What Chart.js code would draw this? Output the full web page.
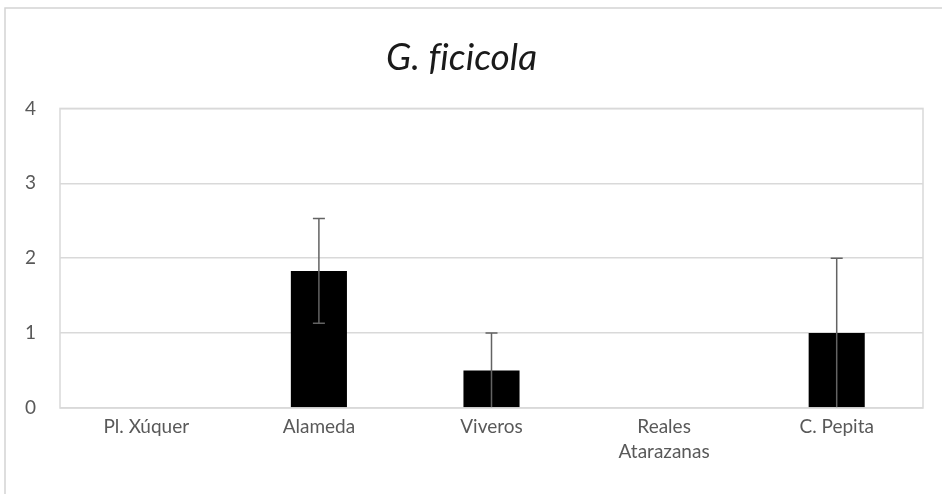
<!DOCTYPE html>
<html>
<head>
<meta charset="utf-8">
<title>G. ficicola</title>
<script src="https://cdn.jsdelivr.net/npm/chart.js"></script>
<style>
  html, body { margin:0; padding:0; background:#fff; }
  .wrap { width:942px; height:494px; position:relative; }
</style>
</head>
<body>
<div class="wrap"><canvas id="chart"></canvas></div>
<script>
const categories = ['Pl. Xúquer', 'Alameda', 'Viveros', ['Reales', 'Atarazanas'], 'C. Pepita'];
const means = [0, 1.83, 0.5, 0, 1.0];
const errors = [0, 0.7, 0.5, 0, 1.0];
const yTicks = [0, 1, 2, 3, 4];

const FONT = "Lato, 'Open Sans', sans-serif";

// outer frame like the spreadsheet chart border
const frame = {
  id: 'frame',
  beforeDraw(chart) {
    const ctx = chart.ctx;
    ctx.save();
    ctx.strokeStyle = '#d4d4d4';
    ctx.lineWidth = 1.5;
    ctx.strokeRect(5, 8, 960, 520);
    ctx.restore();
  }
};

// error bars from the errors array
const errorBars = {
  id: 'errorBars',
  afterDatasetsDraw(chart) {
    const ctx = chart.ctx;
    const x = chart.scales.x, y = chart.scales.y;
    ctx.save();
    ctx.strokeStyle = '#636363';
    ctx.lineWidth = 1.5;
    means.forEach((m, i) => {
      if (!errors[i]) return;
      const px = x.getPixelForValue(i);
      const top = y.getPixelForValue(m + errors[i]);
      const bot = y.getPixelForValue(Math.max(m - errors[i], 0));
      ctx.beginPath();
      ctx.moveTo(px, top); ctx.lineTo(px, bot);
      ctx.moveTo(px - 6, top); ctx.lineTo(px + 6, top);
      if (m - errors[i] > 0) { ctx.moveTo(px - 6, bot); ctx.lineTo(px + 6, bot); }
      ctx.stroke();
    });
    ctx.restore();
  }
};

new Chart(document.getElementById('chart'), {
  type: 'bar',
  data: {
    labels: categories,
    datasets: [{
      data: means,
      backgroundColor: '#000000',
      categoryPercentage: 1,
      barPercentage: 0.325
    }]
  },
  options: {
    responsive: true,
    maintainAspectRatio: false,
    animation: false,
    layout: { padding: { top: 24, right: 19, bottom: 0, left: 0 } },
    plugins: {
      legend: { display: false },
      tooltip: { enabled: false },
      title: {
        display: true,
        // zero-width non-joiner keeps "f" and "i" apart, no ligature
        text: 'G. f\u200Cic\u200Cicola',
        color: '#1a1a1a',
        font: { family: FONT, size: 37, style: 'italic', weight: 'normal', lineHeight: 1.2 },
        padding: { top: 12, bottom: 28 }
      }
    },
    scales: {
      x: {
        grid: { display: false, drawTicks: false },
        border: { display: false },
        ticks: { color: '#595959', font: { family: FONT, size: 19, lineHeight: 1.3 }, padding: 7, maxRotation: 0 },
        afterFit(scale) { scale.height = 86; }
      },
      y: {
        min: 0, max: 4,
        afterBuildTicks(scale) { scale.ticks = yTicks.map(v => ({ value: v })); },
        grid: { color: '#d9d9d9', lineWidth: 1.5, drawTicks: false },
        border: { display: false },
        ticks: { color: '#595959', font: { family: FONT, size: 19 }, padding: 24 },
        afterFit(scale) { scale.width = 60; }
      }
    }
  },
  plugins: [frame, errorBars, {
    id: 'plotBox',
    afterDraw(chart) {
      const a = chart.chartArea, ctx = chart.ctx;
      ctx.save();
      ctx.strokeStyle = '#d9d9d9';
      ctx.lineWidth = 1.5;
      ctx.strokeRect(a.left, a.top, a.right - a.left, a.bottom - a.top);
      ctx.restore();
    }
  }]
});
</script>
</body>
</html>
